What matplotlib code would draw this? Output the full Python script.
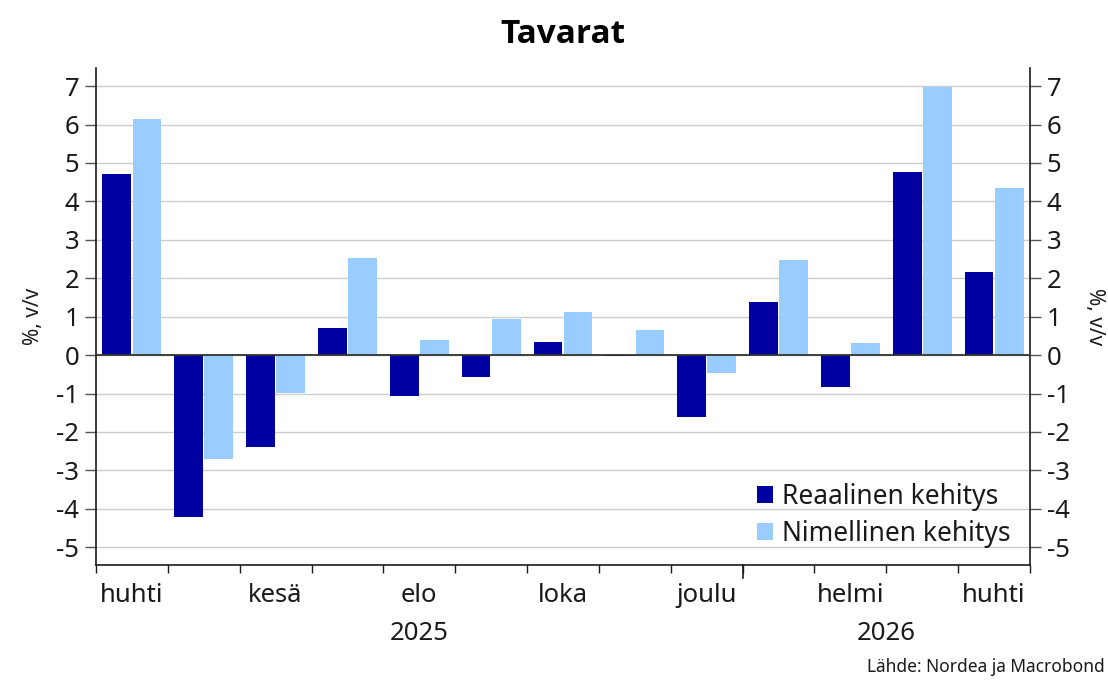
import matplotlib.pyplot as plt
import numpy as np
from matplotlib.patches import Patch

months = ["huhti", "touko", "kesä", "heinä", "elo", "syys", "loka",
          "marras", "joulu", "tammi", "helmi", "maalis", "huhti"]
real = [4.72, -4.22, -2.40, 0.70, -1.07, -0.57, 0.34, -0.03, -1.61, 1.38, -0.84, 4.76, 2.16]
nominal = [6.15, -2.71, -0.99, 2.53, 0.39, 0.94, 1.12, 0.65, -0.47, 2.47, 0.31, 6.98, 4.35]
years = ["2025", "2026"]
year_start = [0, 9]  # index where each year starts

c_real = "#0000A0"
c_nom = "#99CCFF"
fg = "#1a1a1a"
plt.rcParams['font.family'] = ['Noto Sans', 'DejaVu Sans']

fig = plt.figure(figsize=(11.08, 6.81), dpi=100)
ax = fig.add_axes([0.0866, 0.170, 0.843, 0.730])

x = np.arange(len(months))
w = 0.40
ax.bar(x + 0.29, real, width=w, color=c_real, zorder=3)
ax.bar(x + 0.71, nominal, width=w, color=c_nom, zorder=3)

ax.set_xlim(0, len(months))
ax.set_ylim(-5.47, 7.47)
yt = np.arange(-5, 8)
ax.set_yticks(yt)
ax.set_yticklabels([str(v) for v in yt])
ax.grid(axis='y', color='#cccccc', linewidth=1, zorder=0)
ax.axhline(0, color='#333333', linewidth=1.3, zorder=4)

# month boundary ticks, labels every other month centered in slot
ax.set_xticks(np.arange(len(months) + 1))
ax.set_xticklabels([])
ax.set_xticks(x[::2] + 0.5, minor=True)
ax.set_xticklabels(months[::2], minor=True)
ax.tick_params(axis='x', which='major', length=6, width=1, color=fg, direction='out')
ax.tick_params(axis='x', which='minor', length=0, labelsize=18.5, pad=13, labelcolor=fg)
# longer tick at year boundary
ax.plot([9, 9], [0, -0.025], transform=ax.get_xaxis_transform(), color=fg,
        linewidth=1.2, clip_on=False)

ax.yaxis.set_ticks_position('both')
ax.tick_params(axis='y', which='both', length=8, width=1, color='#555555',
               labelsize=18.5, labelcolor=fg, left=True, right=True,
               labelleft=True, labelright=True, pad=4)

for s in ['left', 'right', 'bottom']:
    ax.spines[s].set_color(fg)
    ax.spines[s].set_linewidth(1.2)
ax.spines['top'].set_visible(False)

# year labels centered over each year's months
bounds = year_start + [len(months)]
for i, yr in enumerate(years):
    ax.text((bounds[i] + bounds[i + 1]) / 2, -0.112, yr, transform=ax.get_xaxis_transform(),
            ha='center', va='top', fontsize=18.5, color=fg)

fig.text(0.030, 0.535, "%, v/v", fontsize=15, color=fg, rotation=90, ha='center', va='center')
fig.text(0.988, 0.535, "%, v/v", fontsize=15, color=fg, rotation=270, ha='center', va='center')

ax.set_title("Tavarat", fontsize=24, fontweight='bold', color='black', pad=18,
             family=['Open Sans', 'DejaVu Sans'])

handles = [Patch(facecolor=c_real, label="Reaalinen kehitys"),
           Patch(facecolor=c_nom, label="Nimellinen kehitys")]
leg = ax.legend(handles=handles, loc='lower right', frameon=False, fontsize=19,
                handlelength=0.6, handleheight=0.6, handletextpad=0.35,
                labelspacing=0.35, borderaxespad=0.25, bbox_to_anchor=(0.998, 0.0))
for t in leg.get_texts():
    t.set_color(fg)

fig.text(0.997, 0.008, "Lähde: Nordea ja Macrobond", ha='right', va='bottom',
         fontsize=12.5, color=fg)

fig.savefig("out.png", dpi=100)
